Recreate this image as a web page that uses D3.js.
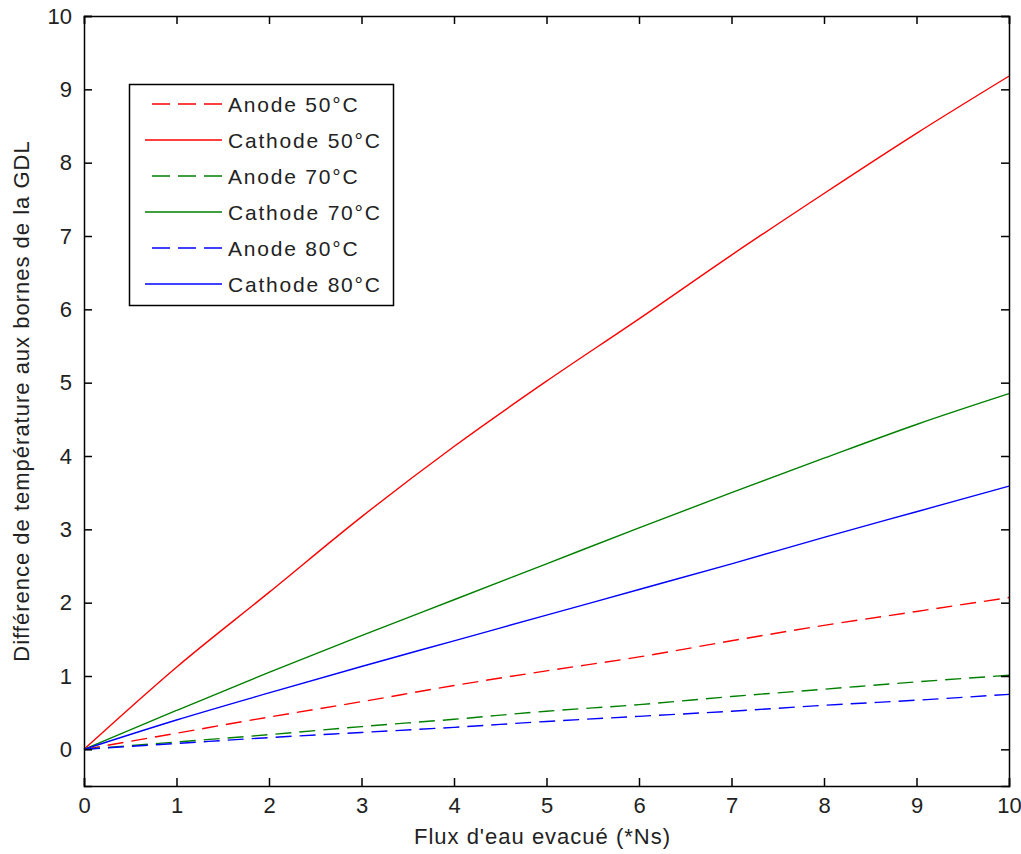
<!DOCTYPE html>
<html><head><meta charset="utf-8">
<script src="https://cdn.jsdelivr.net/npm/d3@7"></script>
<style>body{margin:0;background:#fff}svg{display:block}text{font-family:"Liberation Sans",Arial,sans-serif;fill:#222}</style>
</head><body><svg id="c" width="1021" height="854"></svg>
<script>
const xValues = [0,1,2,3,4,5,6,7,8,9,10];
const anode50   = [0,0.22,0.44,0.65,0.87,1.07,1.26,1.48,1.69,1.88,2.07];
const cathode50 = [0,1.12,2.14,3.17,4.13,5.02,5.87,6.74,7.58,8.40,9.18];
const anode70   = [0,0.10,0.20,0.31,0.41,0.52,0.61,0.72,0.82,0.92,1.01];
const cathode70 = [0,0.53,1.05,1.55,2.04,2.53,3.02,3.50,3.97,4.43,4.85];
const anode80   = [0,0.08,0.16,0.23,0.30,0.38,0.45,0.52,0.60,0.67,0.75];
const cathode80 = [0,0.40,0.77,1.13,1.48,1.83,2.18,2.53,2.89,3.24,3.59];
const seriesNames = ["Anode 50°C","Cathode 50°C","Anode 70°C","Cathode 70°C","Anode 80°C","Cathode 80°C"];
const seriesValues = [anode50,cathode50,anode70,cathode70,anode80,cathode80];
const seriesColors = ["#ff0000","#ff0000","#008000","#008000","#0000ff","#0000ff"];
const seriesDashed = [true,false,true,false,true,false];
const xTicks = [0,1,2,3,4,5,6,7,8,9,10];
const yTicks = [0,1,2,3,4,5,6,7,8,9,10];
const xLabel = "Flux d'eau evacué (*Ns)";
const yLabel = "Différence de température aux bornes de la GDL";

const L=84,R=1009,T=16,B=786;
const svg=d3.select("#c");
const x=d3.scaleLinear().domain([0,10]).range([L,R]);
const y=d3.scaleLinear().domain([-0.5,10]).range([B,T]);

const g=svg.append("g");
const line=d3.line().x((d,i)=>x(xValues[i])).y(d=>y(d)).curve(d3.curveMonotoneX);
seriesValues.forEach((vals,k)=>{
  g.append("path").datum(vals).attr("d",line).attr("fill","none")
   .attr("stroke",seriesColors[k]).attr("stroke-width",1.4)
   .attr("stroke-dasharray",seriesDashed[k]?"16,8":null);
});
const fs=22;
const axB=svg.append("g").attr("transform",`translate(0,${B})`)
  .call(d3.axisBottom(x).tickValues(xTicks).tickSize(-8).tickPadding(11).tickFormat(d3.format("d")));
const axT=svg.append("g").attr("transform",`translate(0,${T})`)
  .call(d3.axisTop(x).tickValues(xTicks).tickSize(-8).tickFormat(""));
const axL=svg.append("g").attr("transform",`translate(${L},0)`)
  .call(d3.axisLeft(y).tickValues(yTicks).tickSize(-8).tickPadding(12).tickFormat(d3.format("d")));
const axR=svg.append("g").attr("transform",`translate(${R},0)`)
  .call(d3.axisRight(y).tickValues(yTicks).tickSize(-8).tickFormat(""));
[axB,axT,axL,axR].forEach(a=>{
  a.select(".domain").attr("stroke","#000").attr("stroke-width",1.5);
  a.selectAll(".tick line").attr("stroke","#000").attr("stroke-width",1.5);
  a.selectAll(".tick text").attr("font-size",fs).attr("fill","#222")
   .attr("font-family","'Liberation Sans',Arial,sans-serif");
});
svg.append("text").attr("x",(L+R)/2-4).attr("y",844).attr("text-anchor","middle")
  .attr("font-size",22).attr("letter-spacing",1).text(xLabel);
svg.append("text").attr("transform",`translate(29,${(T+B)/2}) rotate(-90)`)
  .attr("text-anchor","middle").attr("font-size",22).attr("letter-spacing",1).text(yLabel);
const lg=svg.append("g");
lg.append("rect").attr("x",129.5).attr("y",84.5).attr("width",264).attr("height",221)
  .attr("fill","#fff").attr("stroke","#000").attr("stroke-width",1.5);
seriesNames.forEach((n,k)=>{
  const yy=104+k*36;
  lg.append("line").attr("x1",seriesDashed[k]?152:145).attr("x2",222).attr("y1",yy).attr("y2",yy)
    .attr("stroke",seriesColors[k]).attr("stroke-width",1.4)
    .attr("stroke-dasharray",seriesDashed[k]?"18,8":null);
  lg.append("text").attr("x",228).attr("y",yy+8).attr("font-size",21).attr("letter-spacing",1.8).text(n);
});
</script></body></html>
